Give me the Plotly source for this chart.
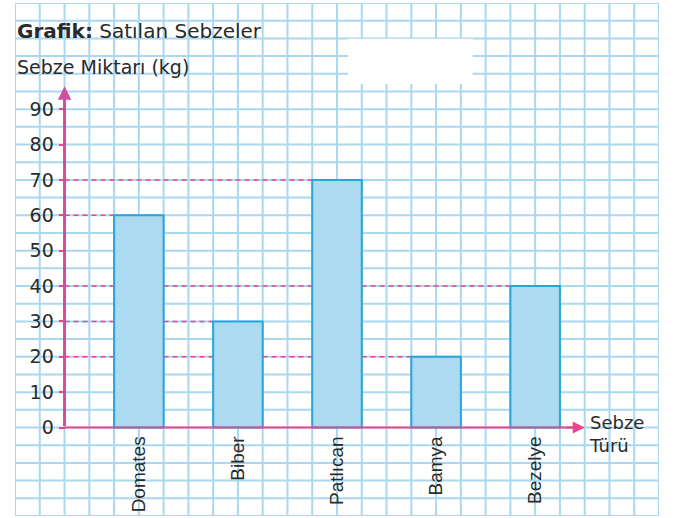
import plotly.graph_objects as go

# ---- data ----
categories = ["Domates", "Biber", "Patlıcan", "Bamya", "Bezelye"]
amounts = [60, 30, 70, 20, 40]
y_tick_values = [0, 10, 20, 30, 40, 50, 60, 70, 80, 90]
y_tick_labels = [str(v) for v in y_tick_values]
title_bold = "Grafik:"
title_rest = "Satılan Sebzeler"
y_title = "Sebze Miktarı (kg)"
x_title_lines = ["Sebze", "Türü"]

# ---- layout constants ----
X_RANGE = [-1.25, 5.25]
Y_RANGE = [-25, 120]
CELL_X = 0.25
CELL_Y = 5
BAR_W = 0.5
AXIS_X = -0.75
FONT = "Liberation Sans, Arial, Helvetica, sans-serif"
WFONT = "DejaVu Sans, Verdana, sans-serif"
GRID = "#a9d8f0"
PINK = "#e8478f"
YAXIS_COL = "#cf4e9e"
TXT = "#2a2a2a"

fig = go.Figure()
fig.add_trace(go.Bar(
    x=categories, y=amounts, width=BAR_W,
    marker=dict(color="#acdaf0", line=dict(color="#2aa5da", width=2)),
    hoverinfo="x+y",
))

shapes = []
# grid-paper background
n_cols = round((X_RANGE[1] - X_RANGE[0]) / CELL_X)
for k in range(n_cols + 1):
    xv = X_RANGE[0] + CELL_X * k
    shapes.append(dict(type="line", xref="x", yref="y", x0=xv, x1=xv, y0=Y_RANGE[0], y1=Y_RANGE[1],
                       line=dict(color=GRID, width=2), layer="below"))
n_rows = round((Y_RANGE[1] - Y_RANGE[0]) / CELL_Y)
for k in range(n_rows + 1):
    yv = Y_RANGE[0] + CELL_Y * k
    shapes.append(dict(type="line", xref="x", yref="y", x0=X_RANGE[0], x1=X_RANGE[1], y0=yv, y1=yv,
                       line=dict(color=GRID, width=2), layer="below"))
# white patch at top
shapes.append(dict(type="rect", xref="x", yref="y", x0=2.11, x1=3.37, y0=97.1, y1=109.9,
                   fillcolor="white", line=dict(width=0), layer="below"))
# dashed guide lines from axis to each bar top
for i, v in enumerate(amounts):
    shapes.append(dict(type="line", xref="x", yref="y", x0=AXIS_X, x1=i - BAR_W / 2, y0=v, y1=v,
                       line=dict(color=PINK, width=1.5, dash="5px,4px"), layer="below"))
# x axis line
shapes.append(dict(type="line", xref="x", yref="y", x0=AXIS_X, x1=4.4, y0=0, y1=0,
                   line=dict(color=PINK, width=2), layer="above"))

annotations = [
    # y axis arrow
    dict(x=AXIS_X, y=96.5, ax=AXIS_X, ay=0, xref="x", yref="y", axref="x", ayref="y",
         text="", showarrow=True, arrowhead=2, arrowsize=0.9, arrowwidth=3, arrowcolor=YAXIS_COL),
    # x axis arrow head
    dict(x=4.5, y=0, ax=4.3, ay=0, xref="x", yref="y", axref="x", ayref="y",
         text="", showarrow=True, arrowhead=2, arrowsize=1.2, arrowwidth=2, arrowcolor=PINK),
    dict(x=0, y=112, xref="paper", yref="y", xanchor="left", yanchor="middle", showarrow=False,
         text=f"<b>{title_bold}</b> {title_rest}", font=dict(family=WFONT, size=20, color=TXT)),
    dict(x=0, y=102, xref="paper", yref="y", xanchor="left", yanchor="middle", showarrow=False,
         text=y_title, font=dict(family=WFONT, size=19, color=TXT)),
    dict(x=4.53, y=-1.9, xref="x", yref="y", xanchor="left", yanchor="middle", showarrow=False,
         align="left", borderpad=0,
         text="<br>".join(x_title_lines), font=dict(family=WFONT, size=18, color=TXT)),
]

fig.update_layout(
    width=687, height=518,
    margin=dict(l=15, r=28, t=3, b=2),
    paper_bgcolor="white", plot_bgcolor="white",
    showlegend=False,
    shapes=shapes, annotations=annotations,
    font=dict(family=FONT, color=TXT),
    xaxis=dict(
        type="category", categoryorder="array", categoryarray=categories,
        range=X_RANGE, anchor="free",
        position=(0 - Y_RANGE[0]) / (Y_RANGE[1] - Y_RANGE[0]),
        showgrid=False, zeroline=False, showline=False, ticks="",
        ticklabelstandoff=4,
        tickangle=-90, tickfont=dict(family=FONT, size=19, color=TXT),
    ),
    yaxis=dict(
        range=Y_RANGE, anchor="free",
        position=(AXIS_X - X_RANGE[0]) / (X_RANGE[1] - X_RANGE[0]),
        tickmode="array", tickvals=y_tick_values, ticktext=y_tick_labels,
        ticks="outside", ticklen=6, tickwidth=2, tickcolor=PINK,
        ticklabelstandoff=1,
        tickfont=dict(family=WFONT, size=19, color=TXT),
        showgrid=False, zeroline=False, showline=False,
    ),
)

fig.write_html("out.html", post_script="document.body.style.margin='0';",
               config={"displayModeBar": False})
